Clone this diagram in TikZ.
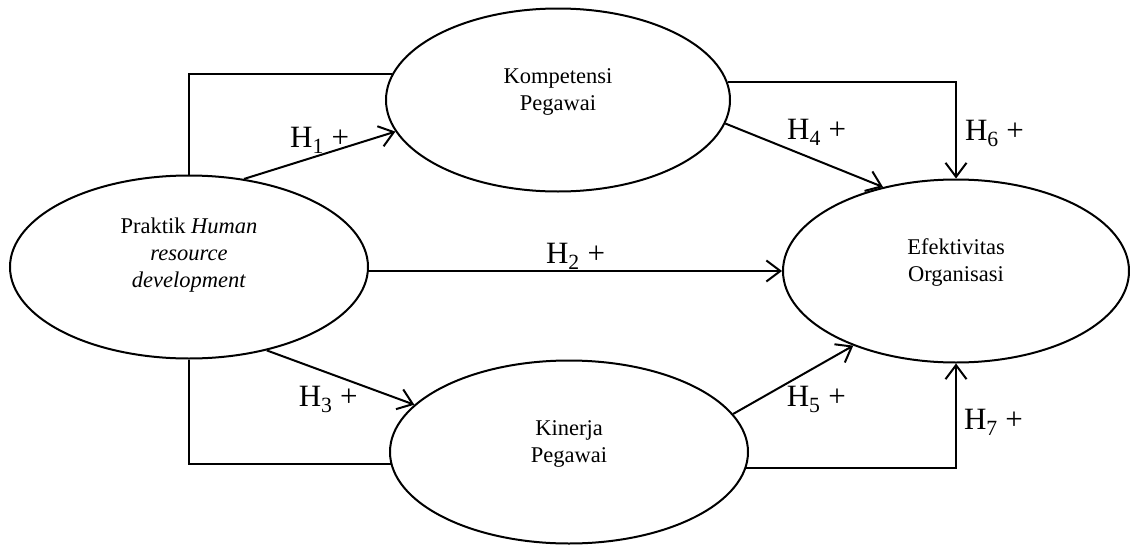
\documentclass[tikz,border=0pt]{standalone}
\usepackage{fontspec}
\setmainfont{Liberation Serif}
\usetikzlibrary{shapes,calc,arrows.meta}

\tikzset{
  var/.style={draw, ellipse, inner sep=0pt, minimum height=183pt, minimum width=#1,
    align=center, font=\fontsize{22.5}{27}\selectfont, text height=26pt},
  hyp/.style={font=\fontsize{31}{37}\selectfont, inner sep=1pt}
}

\begin{document}
\begin{tikzpicture}[x=1pt,y=-1pt,line width=2pt,>={Straight Barb[length=14pt,width=21pt]}]
  \useasboundingbox (0,0) rectangle (1130,546);
  \node[var=358pt,text height=45pt] (PR) at (189,267) {Praktik \textit{Human}\\\textit{resource}\\\textit{development}};
  \node[var=344pt] (KO) at ($(PR)+(369,-167)$) {Kompetensi\\Pegawai};
  \node[var=358pt] (KI) at ($(PR)+(380,185)$) {Kinerja\\Pegawai};
  \node[var=346pt] (EF) at ($(PR)+(767,4)$) {Efektivitas\\Organisasi};

  \path[->] (PR.58) edge [above] node[hyp] {H\textsubscript{1} +} (KO.191);
  \path[->] (PR.east |- EF.west) edge [above] node[hyp] {H\textsubscript{2} +} (EF.west);
  \path[->] (PR.-47) edge [below left,pos=0.63] node[hyp] {H\textsubscript{3} +} (KI.163);
  \path[->] (KO.-8) edge [above right,pos=0.38] node[hyp] {H\textsubscript{4} +} (EF.131);
  \path[->] (KI.16) edge [below right=7pt,pos=0.43] node[hyp] {H\textsubscript{5} +} (EF.216);
  \draw[->] (KO.6) -| node[hyp,right=7pt,pos=0.765] {H\textsubscript{6} +} (EF.north);
  \draw[->] (KI.-5) -| node[hyp,right=6pt,pos=0.716] {H\textsubscript{7} +} (EF.south);
  \draw (PR.north) |- (KO.171);
  \draw (PR.south) |- (KI.184);
\end{tikzpicture}
\end{document}
